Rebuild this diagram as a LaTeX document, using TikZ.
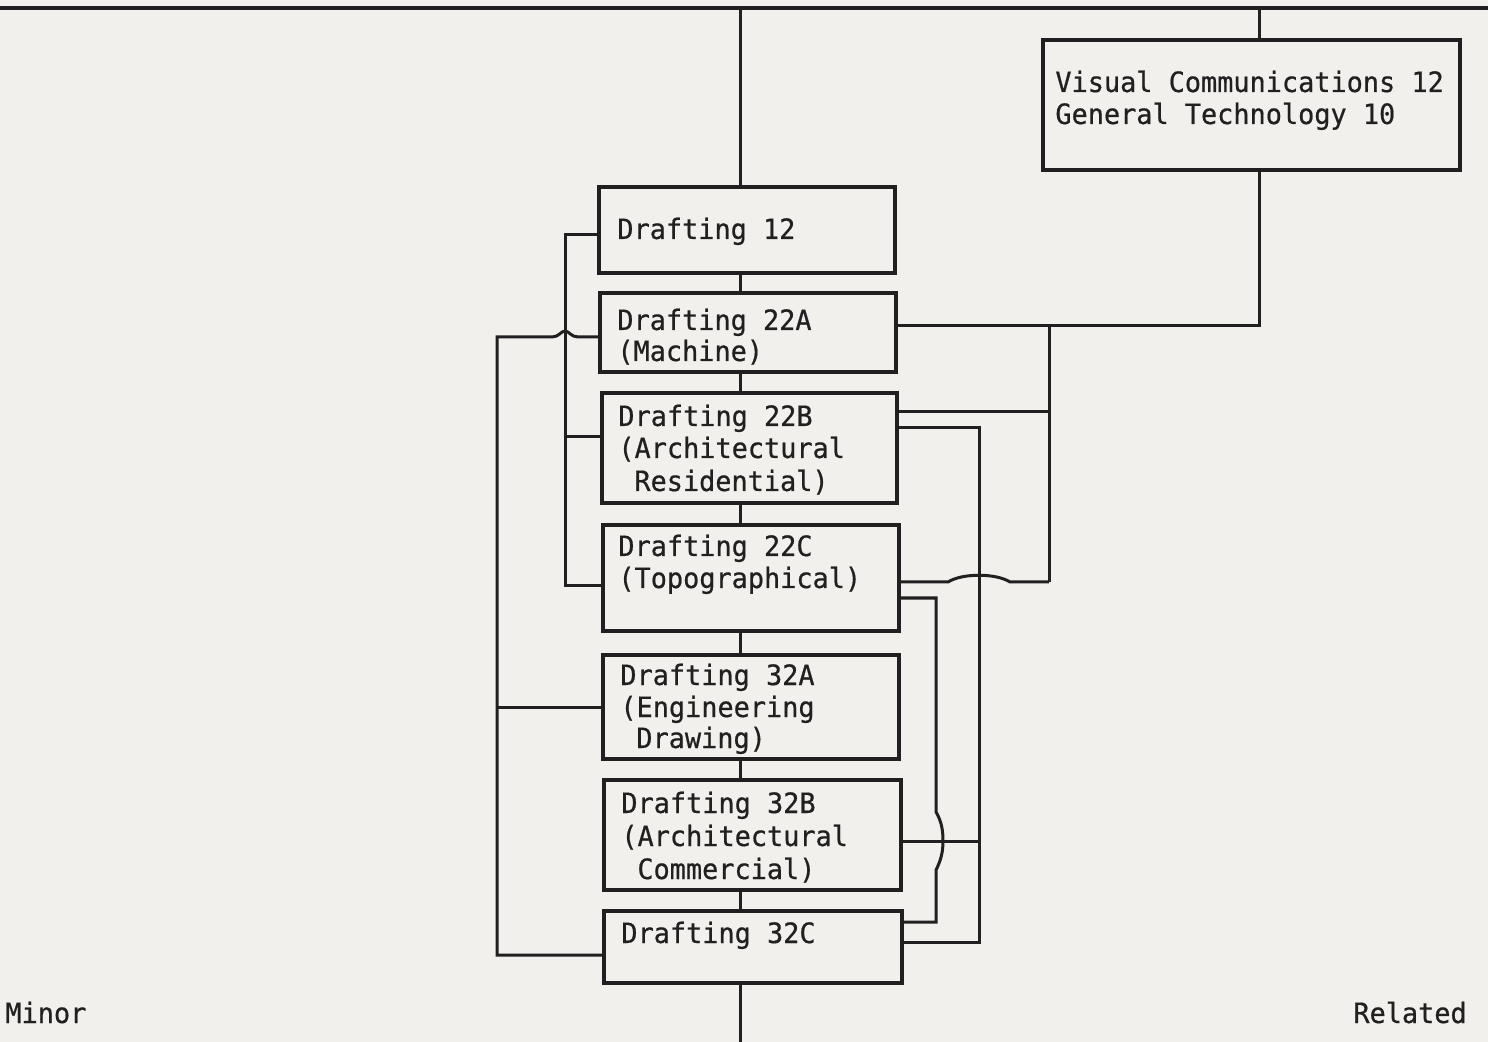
\documentclass[tikz,border=0pt]{standalone}
\usepackage{fontspec}
\newfontfamily\tw[FakeStretch=0.96,FakeBold=0.6]{DejaVu Sans Mono}
\usetikzlibrary{fit}
\definecolor{ink}{RGB}{35,31,32}
\definecolor{paper}{RGB}{241,240,236}
\begin{document}
\begin{tikzpicture}[x=0.5pt,y=-0.5pt,
  box/.style={draw=ink, line width=1.6pt, inner sep=0pt, rectangle},
  lbl/.style={anchor=base west, inner sep=0pt, font=\tw\fontsize{14}{16}\selectfont, text=ink},
  wire/.style={draw=ink, line width=1.5pt, line join=miter}]
\fill[paper] (0,0) rectangle (1488,1042);
\useasboundingbox (0,0) rectangle (1488,1042);

% boxes
\node[box, fit={(599,187) (895,273)}] (d12) {};
\node[box, fit={(600,293) (896,372)}] (d22a) {};
\node[box, fit={(602,393) (897,503)}] (d22b) {};
\node[box, fit={(603,525) (899,631)}] (d22c) {};
\node[box, fit={(603,655) (899,759)}] (d32a) {};
\node[box, fit={(604,780) (901,890)}] (d32b) {};
\node[box, fit={(604,911) (902,983)}] (d32c) {};
\node[box, fit={(1043,40) (1460,170)}] (vc) {};

% texts
\node[lbl] (t12) at (617,239) {Drafting 12};
\node[lbl] (t22a1) at (617,330) {Drafting 22A};
\node[lbl] (t22a2) at (617,361) {(Machine)};
\node[lbl] (t22b1) at (618,426) {Drafting 22B};
\node[lbl] (t22b2) at (618,458) {(Architectural};
\node[lbl] (t22b3) at (634,491) {Residential)};
\node[lbl] (t22c1) at (618,556) {Drafting 22C};
\node[lbl] (t22c2) at (618,588) {(Topographical)};
\node[lbl] (t32a1) at (620,685) {Drafting 32A};
\node[lbl] (t32a2) at (620,717) {(Engineering};
\node[lbl] (t32a3) at (636,748) {Drawing)};
\node[lbl] (t32b1) at (621,813) {Drafting 32B};
\node[lbl] (t32b2) at (621,846) {(Architectural};
\node[lbl] (t32b3) at (637,879) {Commercial)};
\node[lbl] (t32c) at (621,943) {Drafting 32C};
\node[lbl] (tvc1) at (1055,92) {Visual Communications 12};
\node[lbl] (tvc2) at (1055,124) {General Technology 10};
\node[lbl] (tmin) at (5,1023) {Minor};
\node[lbl] (trel) at (1353,1023) {Related};

% helper coordinates
\coordinate (tl) at (0,8);
\coordinate (tr) at (1488,8);
\coordinate (sp) at (740,0);
\coordinate (bot) at (740,1042);
\coordinate (vx) at (1259,0);
\coordinate (L1) at (565,0);
\coordinate (L2) at (497,0);
\coordinate (R1) at (1049,0);
\coordinate (R2) at (979,0);
\coordinate (R3) at (936,0);
\coordinate (ya) at (0,326);
\coordinate (yb) at (0,412);
\coordinate (yc) at (0,582);
\coordinate (yd) at (0,428);
\coordinate (ye) at (0,841);
\coordinate (yf) at (0,942);
\coordinate (yg) at (0,598);
\coordinate (yh) at (0,922);
\coordinate (yi) at (0,235);
\coordinate (yj) at (0,437);
\coordinate (yk) at (0,586);
\coordinate (yl) at (0,337);
\coordinate (ym) at (0,707);
\coordinate (yn) at (0,955);

% top rule and spine
\draw[wire, line width=2pt] (tl) -- (tr);
\draw[wire] (sp |- tl) -- (sp |- d12.north);
\draw[wire] (sp |- d12.south) -- (sp |- d22a.north);
\draw[wire] (sp |- d22a.south) -- (sp |- d22b.north);
\draw[wire] (sp |- d22b.south) -- (sp |- d22c.north);
\draw[wire] (sp |- d22c.south) -- (sp |- d32a.north);
\draw[wire] (sp |- d32a.south) -- (sp |- d32b.north);
\draw[wire] (sp |- d32b.south) -- (sp |- d32c.north);
\draw[wire] (sp |- d32c.south) -- (bot);

% related branch
\draw[wire] (vx |- tl) -- (vx |- vc.north);
\draw[wire] (vx |- vc.south) -- (vx |- ya) -- (d22a.east |- ya);
\draw[wire] (R1 |- ya) -- (R1 |- yc);
\draw[wire] (R1 |- yb) -- (d22b.east |- yb);
\draw[wire] (d22c.east |- yc) -- (948,582) .. controls (962,573) and (996,573) .. (1010,582) -- (R1 |- yc);

\draw[wire] (d22b.east |- yd) -- (R2 |- yd) -- (R2 |- yf) -- (d32c.east |- yf);
\draw[wire] (d32b.east |- ye) -- (R2 |- ye);

\draw[wire] (d22c.east |- yg) -- (R3 |- yg) -- (936,812)
  .. controls (942,822) and (943,832) .. (943,841)
  .. controls (943,852) and (941,860) .. (936,870) -- (R3 |- yh) -- (d32c.east |- yh);

% minor branch
\draw[wire] (d12.west |- yi) -- (L1 |- yi) -- (L1 |- yk) -- (d22c.west |- yk);
\draw[wire] (L1 |- yj) -- (d22b.west |- yj);
\draw[wire] (d22a.west |- yl) -- (578,337) .. controls (571,337) and (569,331) .. (565,331)
  .. controls (561,331) and (559,337) .. (552,337) -- (L2 |- yl) -- (L2 |- yn) -- (d32c.west |- yn);
\draw[wire] (L2 |- ym) -- (d32a.west |- ym);
\end{tikzpicture}
\end{document}
